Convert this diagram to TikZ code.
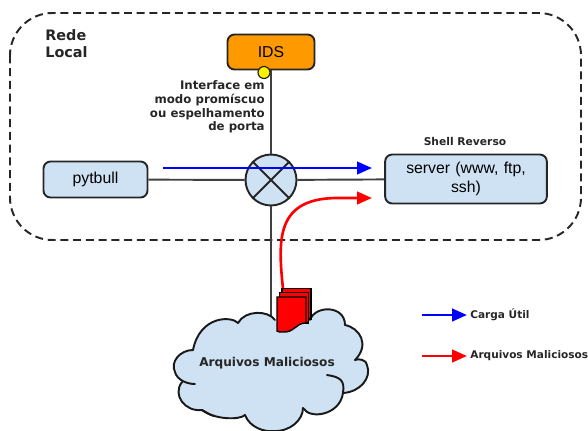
\documentclass[tikz,border=0pt]{standalone}
\usepackage{fontspec}
\setmainfont{DejaVu Sans}
\newfontfamily\boxfont{Liberation Sans}
\usepackage{xcolor}
\usepackage{tikz}
\usetikzlibrary{arrows.meta}
\usetikzlibrary{positioning}
\definecolor{boxblue}{HTML}{CFE2F3}
\definecolor{idsorange}{HTML}{FF9900}
\tikzset{>={Triangle[length=.3cm,width=.25cm]}}
\tikzstyle{wire} = [draw=black!75, line width=1.1pt]
\tikzstyle{box} = [rectangle, rounded corners=.14cm, draw=black!85, line width=1.1pt, font=\boxfont\fontsize{9}{10.8}\selectfont, align=center]
\tikzstyle{lbl} = [draw=none, inner sep=0pt, font=\fontsize{6.7}{7.9}\selectfont\bfseries, text=black!85]
\tikzstyle{leg} = [lbl, font=\fontsize{6}{7}\selectfont\bfseries]
\tikzstyle{flow} = [->, line width=1.5pt]
\tikzstyle{sheet} = [draw=black, line width=.8pt, fill=red]
\tikzstyle{puff} = [line width=1.1pt, draw=black!90, line cap=round]
\begin{document}
\begin{tikzpicture}[x=.02cm, y=-.02cm]
\useasboundingbox (0, 0) rectangle (588, 430);
\draw [dash pattern=on .16cm off .095cm, line width=1.1pt, draw=black!85, rounded corners=.85cm] (10, 13) rectangle (581, 240);
\node [box, fill=idsorange, minimum width=1.74cm, minimum height=.7cm] (IDS) at (271, 52) {IDS};
\node [box, fill=boxblue, minimum width=2.08cm, minimum height=.72cm] (pytbull) at (95.5, 179.5) {pytbull};
\node [box, fill=boxblue, text width=3cm, minimum width=3.18cm, minimum height=.98cm] (server) at (466, 179) {server (www, ftp,\\ssh)};
\node [circle, draw=black!85, line width=1.1pt, fill=boxblue, minimum size=1.02cm, inner sep=0pt] (sw) at (271, 180) {};
\coordinate (cloudtop) at (271, 316);
\draw [wire] (IDS) to (sw);
\draw [wire] (pytbull) to (sw);
\draw [wire] (sw) to (server);
\draw [wire] (sw) to (cloudtop);
\draw [line width=1.1pt, draw=black!85] (sw.north west) to (sw.south east);
\draw [line width=1.1pt, draw=black!85] (sw.north east) to (sw.south west);
\node [circle, draw=black!85, line width=.7pt, fill=yellow, minimum size=.24cm, inner sep=0pt] (port) at (264, 72.5) {};
\node [lbl, align=right, anchor=north east] (iface) at (265, 80) {Interface em\\modo promíscuo\\ou espelhamento\\de porta};
\node [lbl, anchor=center] (rede) at (66.5, 43.5) [align=left, font=\fontsize{8.2}{9.8}\selectfont\bfseries] {Rede\\Local};
\node [leg, font=\fontsize{6.1}{7}\selectfont\bfseries] (shell) at (465, 141) {Shell Reverso};
\coordinate (blueA) at (163, 168);
\coordinate (blueB) at (372, 168);
\draw [flow, color=blue] (blueA) to (blueB);
\draw [fill=boxblue, draw=none] (275, 320) .. controls (268, 310) and (245, 310) .. (238, 323) .. controls (232, 316) and (200, 315) .. (193, 350) .. controls (180, 350) and (170, 362) .. (175, 372) .. controls (176, 378) and (182, 382) .. (182, 382) .. controls (172, 395) and (185, 412) .. (202, 410) .. controls (215, 420) and (240, 420) .. (245, 415) .. controls (250, 428) and (265, 432) .. (273, 431) .. controls (290, 432) and (303, 420) .. (303, 408) .. controls (310, 420) and (340, 415) .. (343, 393) .. controls (360, 392) and (372, 378) .. (367, 365) .. controls (367, 360) and (358, 358) .. (355, 360) .. controls (370, 345) and (360, 328) .. (345, 325) .. controls (345, 305) and (315, 305) .. (310, 320) -- cycle;
\draw [puff] (275, 320) .. controls (268, 310) and (245, 310) .. (238, 323);
\draw [puff] (238, 323) .. controls (232, 316) and (200, 315) .. (193, 350);
\draw [puff] (193, 350) .. controls (180, 350) and (170, 362) .. (175, 372) .. controls (177, 380) and (187, 384) .. (195, 384);
\draw [puff] (182, 382) .. controls (172, 395) and (185, 412) .. (202, 410) .. controls (206, 412) and (210, 415) .. (214, 416);
\draw [puff] (202, 410) .. controls (215, 420) and (240, 420) .. (245, 415);
\draw [puff] (245, 415) .. controls (250, 428) and (265, 432) .. (273, 431) .. controls (290, 432) and (303, 420) .. (303, 408);
\draw [puff] (303, 408) .. controls (310, 420) and (340, 415) .. (343, 393) .. controls (345, 380) and (340, 377) .. (327, 375);
\draw [puff] (343, 393) .. controls (360, 392) and (372, 378) .. (367, 365) .. controls (367, 360) and (358, 358) .. (355, 360);
\draw [puff] (355, 360) .. controls (370, 345) and (360, 328) .. (345, 325);
\draw [puff] (345, 325) .. controls (345, 305) and (315, 305) .. (310, 320);
\node [lbl, font=\fontsize{6.9}{8}\selectfont\bfseries] (arquivos) at (267, 363) {Arquivos Maliciosos};
\coordinate (redA) at (283, 289);
\coordinate (redB) at (372, 198);
\draw [flow, color=red] (redA) .. controls (278, 240) and (275, 197) .. (340, 198) to (redB);
\draw [sheet] (282, 288.5) rectangle (311, 319);
\draw [sheet] (279.5, 292.5) rectangle (308.5, 323);
\draw [sheet] (277, 297) -- (306, 297) -- (306, 323) .. controls (295, 323) and (295, 333) .. (282, 332) .. controls (280, 332) and (278, 332) .. (277, 331) -- cycle;
\coordinate (legblueA) at (422, 315);
\coordinate (legblueB) at (467, 315);
\draw [flow, color=blue] (legblueA) to (legblueB);
\node [leg, anchor=west] (carga) at (470, 315) {Carga Útil};
\coordinate (legredA) at (422, 356);
\coordinate (legredB) at (467, 356);
\draw [flow, color=red] (legredA) to (legredB);
\node [leg, anchor=west] (legarq) at (470, 356) {Arquivos Maliciosos};
\end{tikzpicture}
\end{document}
